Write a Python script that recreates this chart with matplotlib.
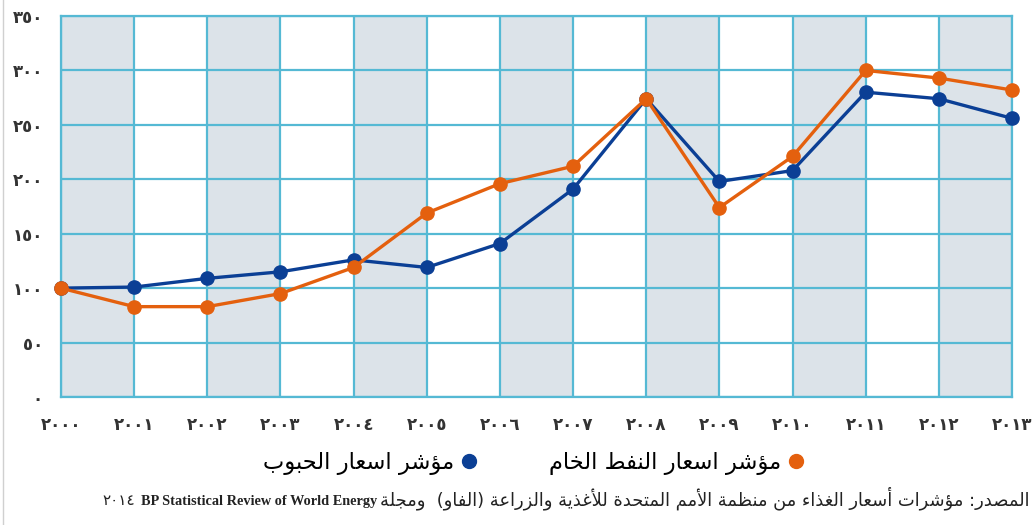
import matplotlib
matplotlib.use("Agg")
import matplotlib.pyplot as plt
from matplotlib.lines import Line2D

# data
years = list(range(2000, 2014))
grain_index = [100, 101, 109, 115, 126, 119, 141, 191, 274, 198, 208, 280, 274, 256]
oil_index = [100, 83, 83, 95, 119, 169, 196, 212, 274, 174, 221, 300, 293, 282]
y_ticks = [0, 50, 100, 150, 200, 250, 300, 350]

grain_label = "مؤشر اسعار الحبوب"
oil_label = "مؤشر اسعار النفط الخام"
source_ar = "المصدر: مؤشرات أسعار الغذاء من منظمة الأمم المتحدة للأغذية والزراعة (الفاو)  ومجلة"
source_en = "BP Statistical Review of World Energy"
source_year = 2014

BLUE = "#0b3f95"
ORANGE = "#e4600e"
GRID = "#55b9d4"
SHADE = "#dce3e9"

# --- tiny arabic shaper (matplotlib has no shaping / bidi) ---
_FORMS = {
    'ء': (0xFE80, 1), 'آ': (0xFE81, 2), 'أ': (0xFE83, 2), 'ؤ': (0xFE85, 2),
    'إ': (0xFE87, 2), 'ئ': (0xFE89, 4), 'ا': (0xFE8D, 2), 'ب': (0xFE8F, 4),
    'ة': (0xFE93, 2), 'ت': (0xFE95, 4), 'ث': (0xFE99, 4), 'ج': (0xFE9D, 4),
    'ح': (0xFEA1, 4), 'خ': (0xFEA5, 4), 'د': (0xFEA9, 2), 'ذ': (0xFEAB, 2),
    'ر': (0xFEAD, 2), 'ز': (0xFEAF, 2), 'س': (0xFEB1, 4), 'ش': (0xFEB5, 4),
    'ص': (0xFEB9, 4), 'ض': (0xFEBD, 4), 'ط': (0xFEC1, 4), 'ظ': (0xFEC5, 4),
    'ع': (0xFEC9, 4), 'غ': (0xFECD, 4), 'ف': (0xFED1, 4), 'ق': (0xFED5, 4),
    'ك': (0xFED9, 4), 'ل': (0xFEDD, 4), 'م': (0xFEE1, 4), 'ن': (0xFEE5, 4),
    'ه': (0xFEE9, 4), 'و': (0xFEED, 2), 'ى': (0xFEEF, 2), 'ي': (0xFEF1, 4),
}
_LAMALEF = {'آ': 0xFEF5, 'أ': 0xFEF7, 'إ': 0xFEF9, 'ا': 0xFEFB}
_MIRROR = {'(': ')', ')': '('}


def _joins_next(c):
    return c in _FORMS and _FORMS[c][1] == 4


def rtl(text):
    out = []
    i = 0
    n = len(text)
    while i < n:
        c = text[i]
        prev = text[i - 1] if i > 0 else ''
        nxt = text[i + 1] if i + 1 < n else ''
        if c not in _FORMS:
            out.append(_MIRROR.get(c, c))
            i += 1
            continue
        before = _joins_next(prev)
        if c == 'ل' and nxt in _LAMALEF:
            out.append(chr(_LAMALEF[nxt] + (1 if before else 0)))
            i += 2
            continue
        base, k = _FORMS[c]
        after = k == 4 and nxt in _FORMS
        if k == 1:
            form = 0
        elif before and after:
            form = 3
        elif before:
            form = 1
        elif after:
            form = 2
        else:
            form = 0
        out.append(chr(base + form))
        i += 1
    return ''.join(reversed(out))


def ar_digits(v):
    return str(v).translate(str.maketrans("0123456789", "٠١٢٣٤٥٦٧٨٩"))


plt.rcParams['font.family'] = ['DejaVu Sans']

W, H = 1036, 525
fig = plt.figure(figsize=(W / 100, H / 100), dpi=100)
ax = fig.add_axes([61 / W, 1 - 397 / H, (1012 - 61) / W, (397 - 16) / H])

# alternate shaded columns
for k, y0 in enumerate(years[:-1]):
    if k % 2 == 0:
        ax.axvspan(y0, y0 + 1, color=SHADE, zorder=0, lw=0)

ax.set_xlim(years[0], years[-1])
ax.set_ylim(0, 350)
ax.set_xticks(years)
ax.set_yticks(y_ticks)
ax.set_xticklabels([ar_digits(y) for y in years], fontsize=12, fontweight='bold', color='#333333')
ax.set_yticklabels([ar_digits(v) for v in y_ticks], fontsize=12, fontweight='bold', color='#333333')
ax.tick_params(length=0, pad=14)
ax.tick_params(axis='y', pad=13)
ax.grid(True, color=GRID, lw=1.6, zorder=1)
for s in ax.spines.values():
    s.set_color(GRID)
    s.set_linewidth(1.6)
ax.set_axisbelow(True)

ax.plot(years, grain_index, color=BLUE, lw=2.4, marker='o', ms=9.5, zorder=3, clip_on=False)
ax.plot(years, oil_index, color=ORANGE, lw=2.4, marker='o', ms=9.5, zorder=4, clip_on=False)

handles = [Line2D([], [], ls='', marker='o', ms=10, color=BLUE),
           Line2D([], [], ls='', marker='o', ms=10, color=ORANGE)]
fig.legend(handles, [rtl(grain_label), rtl(oil_label)], ncol=2, markerfirst=False,
           frameon=False, prop={'size': 16.3}, loc='center',
           bbox_to_anchor=(534 / W, 1 - 463 / H),
           handletextpad=0.25, handlelength=0.8, columnspacing=3.1)

# source line: arabic part right-aligned, english + year to its left, shared baseline
renderer = fig.canvas.get_renderer()
base_y = 1 - 505 / H
t_ar = fig.text(1030 / W, base_y, rtl(source_ar), ha='right', va='baseline',
                fontsize=12.9, color='#222222')
left = t_ar.get_window_extent(renderer).x0
t_en = fig.text((left - 3) / W, base_y, source_en, ha='right', va='baseline',
                fontsize=10.3, fontweight='bold', family='Liberation Serif', color='#222222')
left = t_en.get_window_extent(renderer).x0
fig.text((left - 6) / W, base_y, ar_digits(source_year), ha='right', va='baseline',
         fontsize=11, color='#222222')

fig.add_artist(Line2D([3 / W, 3 / W], [0, 1], color='#d0d0d0', lw=1))

fig.savefig("out.png", dpi=100, facecolor='white')
